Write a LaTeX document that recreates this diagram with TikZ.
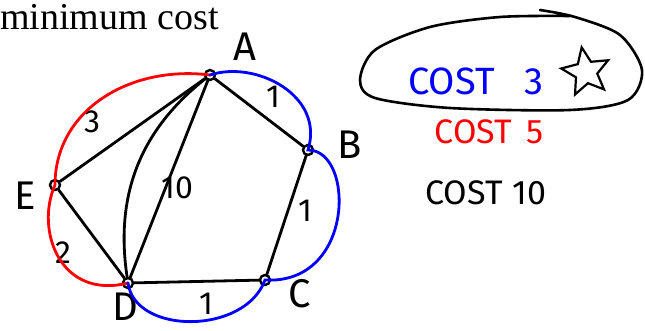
\documentclass[tikz,border=0pt]{standalone}
\usepackage{fontspec}
\setmainfont{Liberation Serif}
\newfontfamily\handfont{Fira Sans}
\usetikzlibrary{shapes.geometric}

\begin{document}
\begin{tikzpicture}[x=1pt, y=-1pt,
  vertex/.style={draw, circle, line width=2.4pt, inner sep=0pt, minimum size=10pt},
  edge/.style={line width=2.8pt, line cap=round},
  tour/.style={line width=2.8pt, line cap=round},
  hand/.style={font=\handfont\fontsize{40}{44}\selectfont},
  weight/.style={font=\handfont\fontsize{32}{36}\selectfont}]
  \useasboundingbox (0,0) rectangle (645,331);

  % title
  \node[anchor=base west, inner sep=0pt, font=\fontsize{38}{44}\selectfont] (title) at (0,30) {minimum cost};

  % vertices
  \node[vertex] (A) at (210,75) {};
  \node[vertex] (B) at (308,150) {};
  \node[vertex] (C) at (265,280) {};
  \node[vertex] (D) at (128,283) {};
  \node[vertex] (E) at (55,185) {};
  \node[hand] (nA) at (245,47) {A};
  \node[hand] (nB) at (350,145) {B};
  \node[hand] (nC) at (300,294) {C};
  \node[hand, inner sep=1pt] (nD) at (125,307) {D};
  \node[hand] (nE) at (25,196) {E};

  % edges
  \draw[edge] (A) -- (B);
  \draw[edge] (B) -- (C);
  \draw[edge] (C) -- (D);
  \draw[edge] (D) -- (E);
  \draw[edge] (E) -- (A);
  \draw[edge] (A) to[bend right=30] (D);
  \draw[edge] (A) -- (D);
  \node[weight] (wAB) at (273,97) {1};
  \node[weight] (wBC) at (305,211) {1};
  \node[weight] (wCD) at (206,304) {1};
  \node[weight] (wAD) at (177,188) {10};
  \node[weight] (wAE) at (92,122) {3};
  \node[weight] (wDE) at (63,253) {2};

  % tour of cost 5
  \draw[tour, red] (A.center) .. controls (130,65) and (55,110) .. (E.center)
    .. controls (35,230) and (60,300) .. (D.center);
  % tour of cost 3
  \draw[tour, blue] (A.center) .. controls (255,60) and (325,95) .. (B.center)
    .. controls (355,150) and (355,285) .. (C.center)
    .. controls (245,335) and (135,335) .. (D.center);

  % costs
  \draw[line width=2.6pt, line cap=round] plot[smooth] coordinates {(540,10) (575,17) (620,35) (642,70)
    (628,100) (570,110) (450,108) (375,98) (360,80) (375,50) (430,27) (500,17) (570,16)};
  \node[hand, blue, font=\handfont\fontsize{38}{42}\selectfont] (c3) at (476,81) {COST\hspace{30pt}3};
  \node[draw, star, star points=5, star point ratio=2.2, line width=2.2pt, minimum size=50pt, inner sep=0pt, rotate=10] (best) at (586,72) {};
  \node[hand, red, font=\handfont\fontsize{34}{38}\selectfont] (c5) at (489,132) {COST\hspace{14pt}5};
  \node[hand, font=\handfont\fontsize{34}{38}\selectfont] (c10) at (486,193) {COST\hspace{10pt}10};
\end{tikzpicture}
\end{document}
